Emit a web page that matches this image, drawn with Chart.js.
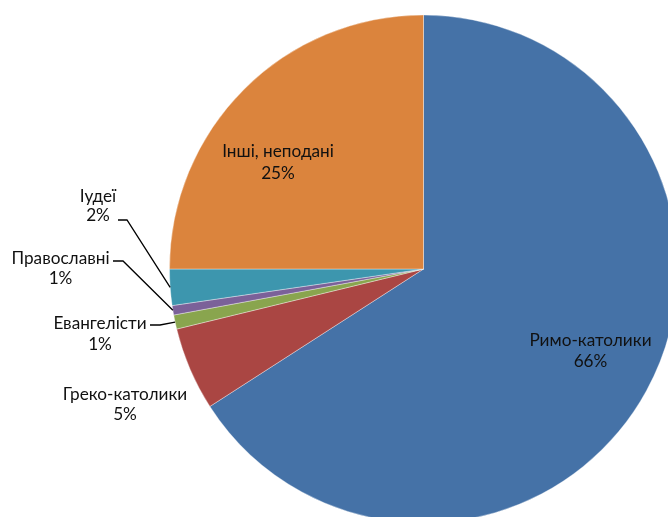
<!DOCTYPE html>
<html>
<head>
<meta charset="utf-8">
<script src="https://cdn.jsdelivr.net/npm/chart.js@4.4.0/dist/chart.umd.min.js"></script>
<style>
  html, body { margin: 0; padding: 0; background: #fff; overflow: hidden; width: 668px; height: 517px; }
  #wrap { position: absolute; left: 0; top: 0; width: 847px; height: 538px; }
</style>
</head>
<body>
<div id="wrap"><canvas id="c" width="847" height="538"></canvas></div>
<script>
// ---- data ----
const categories = ['Римо-католики', 'Греко-католики', 'Евангелісти', 'Православні', 'Іудеї', 'Інші, неподані'];
const shares = [65.9, 5.3, 0.9, 0.6, 2.3, 25.0];
const colors = ['#4572A7', '#AA4643', '#89A54E', '#7B6199', '#3D96AE', '#DB843D'];

// ---- label layout (text centre x, first-line baseline y, optional leader start) ----
const labelLayout = [
  { x: 590.5, y: 346, gap: 21 },
  { x: 125, y: 400, gap: 20 },
  { x: 100, y: 329, gap: 21, leader: { x: 150, y: 325, tick: 10 } },
  { x: 60.5, y: 264, gap: 20, leader: { x: 113, y: 261, tick: 10 } },
  { x: 98, y: 201.5, gap: 19.5, leader: { x: 118, y: 220, tick: 9 } },
  { x: 278, y: 157, gap: 22 }
];

const labelPlugin = {
  id: 'pieLabels',
  afterDatasetsDraw(chart) {
    const ctx = chart.ctx;
    const meta = chart.getDatasetMeta(0);
    const data = chart.data.datasets[0].data;
    const total = data.reduce((a, b) => a + b, 0);
    ctx.save();
    ctx.font = '17.2px Lato';
    ctx.fillStyle = '#111';
    ctx.textAlign = 'center';
    ctx.textBaseline = 'alphabetic';
    meta.data.forEach((arc, i) => {
      const L = labelLayout[i];
      const pct = Math.round(data[i] / total * 100) + '%';
      ctx.fillText(chart.data.labels[i], L.x, L.y);
      ctx.fillText(pct, L.x, L.y + L.gap);
      if (L.leader) {
        const p = arc.getProps(['x', 'y', 'startAngle', 'endAngle', 'outerRadius'], true);
        const mid = (p.startAngle + p.endAngle) / 2;
        const ex = p.x + Math.cos(mid) * p.outerRadius;
        const ey = p.y + Math.sin(mid) * p.outerRadius;
        ctx.beginPath();
        ctx.strokeStyle = '#000';
        ctx.lineWidth = 1.3;
        ctx.moveTo(L.leader.x, L.leader.y);
        ctx.lineTo(L.leader.x + L.leader.tick, L.leader.y);
        ctx.lineTo(ex, ey);
        ctx.stroke();
      }
    });
    ctx.restore();
  }
};

new Chart(document.getElementById('c'), {
  type: 'pie',
  data: {
    labels: categories,
    datasets: [{
      data: shares,
      backgroundColor: colors,
      borderColor: 'rgba(255,255,255,0.45)',
      borderWidth: 0.8,
      hoverOffset: 0,
      offset: 0,
      radius: 254
    }]
  },
  options: {
    responsive: false,
    animation: false,
    devicePixelRatio: 1,
    layout: { padding: 0 },
    plugins: { legend: { display: false }, tooltip: { enabled: false } },
    events: []
  },
  plugins: [labelPlugin]
});
</script>
</body>
</html>
